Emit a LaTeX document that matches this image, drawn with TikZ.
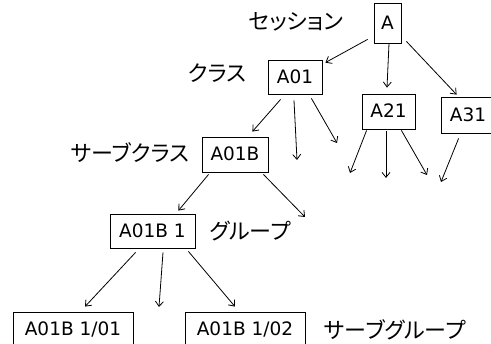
\documentclass[tikz,border=0pt]{standalone}
\usepackage{fontspec}
\setmainfont{DejaVu Sans}
\newfontfamily\jpfont[RawFeature=+palt]{Noto Sans CJK JP}
\usetikzlibrary{arrows.meta}

\tikzset{
  box/.style={draw, line width=0.8pt, inner sep=0pt,
    font=\fontsize{18.5}{20}\selectfont, text height=13pt, text depth=0pt},
  lvl/.style={inner sep=0pt, font=\jpfont\fontsize{22}{24}\selectfont},
  arr/.style={line width=0.8pt, -{Straight Barb[length=5pt,width=8pt]}}
}

\begin{document}
\begin{tikzpicture}[x=1pt, y=-1pt]
  \useasboundingbox (0,0) rectangle (491,344);

  % hierarchy boxes
  \node[box, minimum width=27pt, minimum height=40pt] (A) at (387.5,23) {A};
  \node[box, minimum width=54pt, minimum height=34pt] (A01) at (295,77) {A01};
  \node[box, minimum width=53pt, minimum height=35pt] (A21) at (388.5,111.5) {A21};
  \node[box, minimum width=54pt, minimum height=36pt] (A31) at (468,115) {A31};
  \node[box, minimum width=66pt, minimum height=35pt] (A01B) at (235,154.5) {A01B};
  \node[box, minimum width=85pt, minimum height=34pt] (A01B1) at (152.5,231) {A01B 1};
  \node[box, minimum width=120pt, minimum height=35pt] (A01B101) at (73,329.5) {A01B 1/01};
  \node[box, minimum width=120pt, minimum height=35pt] (A01B102) at (245,329.5) {A01B 1/02};

  % level names
  \node[lvl] (lsession) at (296,22) {セッション};
  \node[lvl] (lclass) at (217,73) {クラス};
  \node[lvl] (lsubclass) at (130,153) {サーブクラス};
  \node[lvl] (lgroup) at (250,231) {グループ};
  \node[lvl] (lsubgroup) at (395,330) {サーブグループ};

  % open ends of the branches
  \coordinate (c1) at (297,160);
  \coordinate (c2) at (337,143);
  \coordinate (c3) at (350,173);
  \coordinate (c4) at (386,178);
  \coordinate (c5) at (427,175);
  \coordinate (c6) at (441,182);
  \coordinate (c7) at (305,217);
  \coordinate (c8) at (159,307);

  % branches
  \draw[arr] ([shift={(-6,-4)}]A.south west) -- ([shift={(3,3)}]A01.north east);
  \draw[arr] ([shift={(1.5,0)}]A.south) -- ([shift={(-1.5,-6)}]A21.north);
  \draw[arr] ([shift={(5,-2)}]A.south east) -- ([shift={(16,-2)}]A31.north west);

  \draw[arr] ([shift={(13,5)}]A01.south west) -- ([shift={(-16,-5)}]A01B.north east);
  \draw[arr] ([shift={(-1,6)}]A01.south) -- (c1);
  \draw[arr] ([shift={(-11,4)}]A01.south east) -- (c2);

  \draw[arr] ([shift={(5,1)}]A21.south west) -- (c3);
  \draw[arr] ([shift={(-2.5,2)}]A21.south) -- (c4);
  \draw[arr] ([shift={(-14,1)}]A21.south east) -- (c5);

  \draw[arr] ([shift={(18,5)}]A31.south west) -- (c6);

  \draw[arr] ([shift={(7,2)}]A01B.south west) -- ([shift={(-17,-3)}]A01B1.north east);
  \draw[arr] ([shift={(-5,2)}]A01B.south east) -- (c7);

  \draw[arr] ([shift={(26,4)}]A01B1.south west) -- ([shift={(12,-5)}]A01B101.north);
  \draw[arr] ([shift={(10.5,4)}]A01B1.south) -- (c8);
  \draw[arr] ([shift={(-7,3)}]A01B1.south east) -- ([shift={(-10,-5)}]A01B102.north);
\end{tikzpicture}
\end{document}
